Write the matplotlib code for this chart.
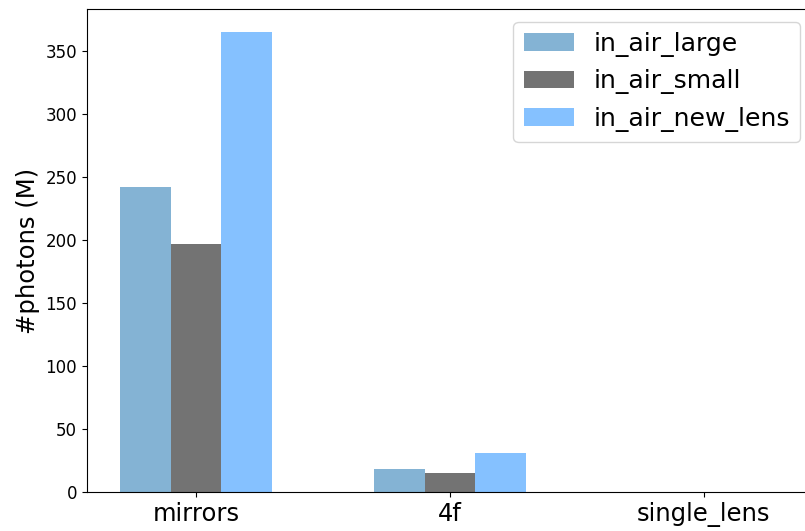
import matplotlib
matplotlib.use("Agg")
import matplotlib.pyplot as plt
import numpy as np

categories = ["mirrors", "4f", "single_lens"]
series_names = ["in_air_large", "in_air_small", "in_air_new_lens"]
in_air_large = [242, 18.3, 0.05]
in_air_small = [197, 15, 0.05]
in_air_new_lens = [365, 31, 0.4]
colors = ["#84b3d4", "#737373", "#85c1ff"]

fig = plt.figure(figsize=(8.05, 5.31), dpi=100)
ax = fig.add_axes([0.108, 0.0734, 0.902, 0.9096])

x = np.arange(len(categories))
w = 0.2
for i, (vals, name) in enumerate(zip([in_air_large, in_air_small, in_air_new_lens], series_names)):
    ax.bar(x + (i - 1) * w, vals, w, color=colors[i], label=name)

ax.set_xticks(x)
ax.set_xticklabels(categories, fontsize=17.5)
ax.tick_params(axis="y", labelsize=12)
ax.set_ylabel("#photons (M)", fontsize=17.5)
ax.legend(fontsize=18.1, loc="upper right")
fig.savefig("out.png", dpi=100)
